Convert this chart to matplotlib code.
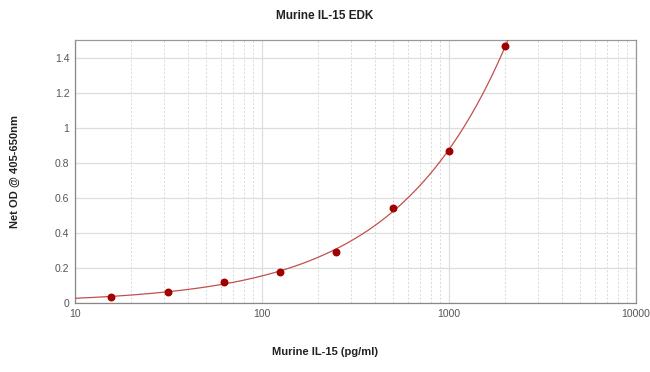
#!/usr/bin/env python3
# coding=utf-8
import matplotlib
matplotlib.use('Agg')
import matplotlib.pyplot as plt
import numpy as np
from matplotlib.ticker import FixedLocator, NullFormatter

# standard curve data (pg/ml vs net OD)
conc = [15.6, 31.25, 62.5, 125, 250, 500, 1000, 2000]
od = [0.034, 0.065, 0.12, 0.177, 0.293, 0.54, 0.868, 1.465]
x_ticks = [10, 100, 1000, 10000]
y_ticks = [0, 0.2, 0.4, 0.6, 0.8, 1, 1.2, 1.4]
y_tick_labels = ['0', '0.2', '0.4', '0.6', '0.8', '1', '1.2', '1.4']

plt.rcParams['font.family'] = ['Liberation Sans', 'DejaVu Sans']


def fit_4pl(x, y):
    # grid search over slope/midpoint, linear solve for bottom/top
    x = np.asarray(x, float)
    y = np.asarray(y, float)
    best = None
    for b in np.linspace(0.3, 3.0, 136):
        for lc in np.linspace(1.5, 6.0, 226):
            g = 1.0 / (1.0 + (x / 10 ** lc) ** b)
            A = np.column_stack([g, 1 - g])
            sol, *_ = np.linalg.lstsq(A, y, rcond=None)
            err = np.sum((A @ sol - y) ** 2)
            if best is None or err < best[0]:
                best = (err, b, 10 ** lc, sol[0], sol[1])
    return best[1:]


def eval_4pl(x, b, c, a, d):
    return d + (a - d) / (1.0 + (x / c) ** b)


fig = plt.figure(figsize=(6.5, 3.72), dpi=100)
ax = fig.add_axes([75 / 650, 1 - 303 / 372, 561 / 650, 263 / 372])

params = fit_4pl(conc, od)
xs = np.logspace(1, np.log10(2600), 300)
ax.plot(xs, eval_4pl(xs, *params), color='#c0504d', lw=0.9, zorder=3)
ax.scatter(conc, od, s=22, color='#a00000', zorder=4)

ax.set_xscale('log')
ax.set_xlim(10, 10000)
ax.set_ylim(0, 1.5)
ax.xaxis.set_major_locator(FixedLocator(x_ticks))
ax.set_xticklabels([str(t) for t in x_ticks])
minor = [m * 10 ** e for e in range(1, 4) for m in range(2, 10)]
ax.xaxis.set_minor_locator(FixedLocator(minor))
ax.xaxis.set_minor_formatter(NullFormatter())
ax.set_yticks(y_ticks)
ax.set_yticklabels(y_tick_labels)

ax.grid(True, which='major', axis='y', color='#dddddd', lw=0.9, ls='-')
ax.grid(True, which='major', axis='x', color='#dddddd', lw=0.9, ls='-')
ax.grid(True, which='minor', axis='x', color='#d8d8d8', lw=0.7, ls=(0, (2, 2)))
ax.set_axisbelow(True)

ax.tick_params(which='both', length=0, labelsize=7.5, labelcolor='#555555', pad=4)
for s in ax.spines.values():
    s.set_color('#999999')
    s.set_linewidth(0.9)
ax.spines['left'].set_color('#888888')
ax.spines['bottom'].set_color('#888888')

fig.text(0.5, 1 - 16 / 372, 'Murine IL-15 EDK', ha='center', va='center',
         fontsize=8.5, fontweight='bold', color='#222222')
fig.text(0.5, 1 - 352 / 372, 'Murine IL-15 (pg/ml)', ha='center', va='center',
         fontsize=8, fontweight='bold', color='#222222')
fig.text(15 / 650, 1 - 172 / 372, 'Net OD @ 405-650nm', ha='center', va='center',
         rotation=90, fontsize=8, fontweight='bold', color='#222222')

plt.savefig('out.png', dpi=100)
